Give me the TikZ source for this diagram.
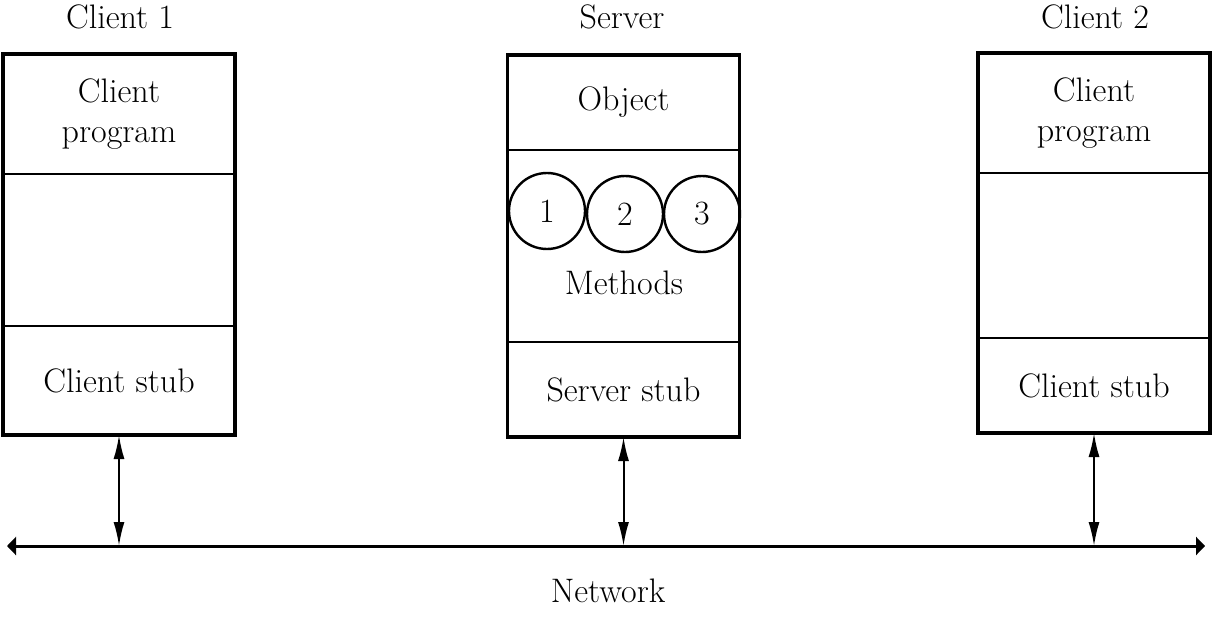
\documentclass[tikz,border=0pt]{standalone}
\usetikzlibrary{arrows.meta}
\begin{document}
\begin{tikzpicture}[x=0.5pt,y=-0.5pt,
	every node/.style={font=\fontsize{17}{20}\selectfont},
	part/.style={draw,line width=1pt,rectangle,inner sep=0pt,outer sep=0pt,minimum width=116pt,anchor=north,align=center},
	method/.style={draw,circle,line width=1.2pt,minimum size=38pt,inner sep=0pt},
	frame/.style={line width=1.8pt},
	link/.style={line width=1pt,{Latex[length=12pt,width=5.5pt]}-{Latex[length=12pt,width=5.5pt]}},
	net/.style={line width=1.5pt,{Triangle[length=4.5pt,width=9pt]}-{Triangle[length=4.5pt,width=9pt]}}]
	\useasboundingbox (0,0) rectangle (1213,620);

	% client 1
	\node[part,minimum height=60pt] (c1prog) at (119,54) {Client\\program};
	\node[part,minimum height=76pt] (c1mid) at (c1prog.south) {};
	\node[part,minimum height=54.5pt] (c1stub) at (c1mid.south) {Client stub};
	\draw[frame] (c1prog.north west) rectangle (c1stub.south east);
	\node (c1) at (120,17) {Client 1};

	% server
	\node[part,minimum height=47.5pt] (sobj) at (623.5,55) {Object};
	\node[part,minimum height=96pt] (smeth) at (sobj.south) {};
	\node[part,minimum height=47.5pt] (sstub) at (smeth.south) {Server stub};
	\draw[frame] (sobj.north west) rectangle (sstub.south east);
	\node (srv) at (622,17) {Server};
	\node[method] (m1) at (547,211) {1};
	\node[method] (m2) at (625,214) {2};
	\node[method] (m3) at (702,214) {3};
	\node (mlabel) at (624,283) {Methods};

	% client 2
	\node[part,minimum height=60pt] (c2prog) at (1094,53) {Client\\program};
	\node[part,minimum height=82.5pt] (c2mid) at (c2prog.south) {};
	\node[part,minimum height=47.5pt] (c2stub) at (c2mid.south) {Client stub};
	\draw[frame] (c2prog.north west) rectangle (c2stub.south east);
	\node (c2) at (1095,17) {Client 2};

	% network
	\coordinate (netL) at (7,546);
	\coordinate (netR) at (1205,546);
	\draw[net] (netL) -- (netR);
	\node (network) at (608,591) {Network};
	\draw[link] (c1stub.south) -- (c1stub.south |- netL);
	\draw[link] (sstub.south) -- (sstub.south |- netL);
	\draw[link] (c2stub.south) -- (c2stub.south |- netL);
\end{tikzpicture}
\end{document}
